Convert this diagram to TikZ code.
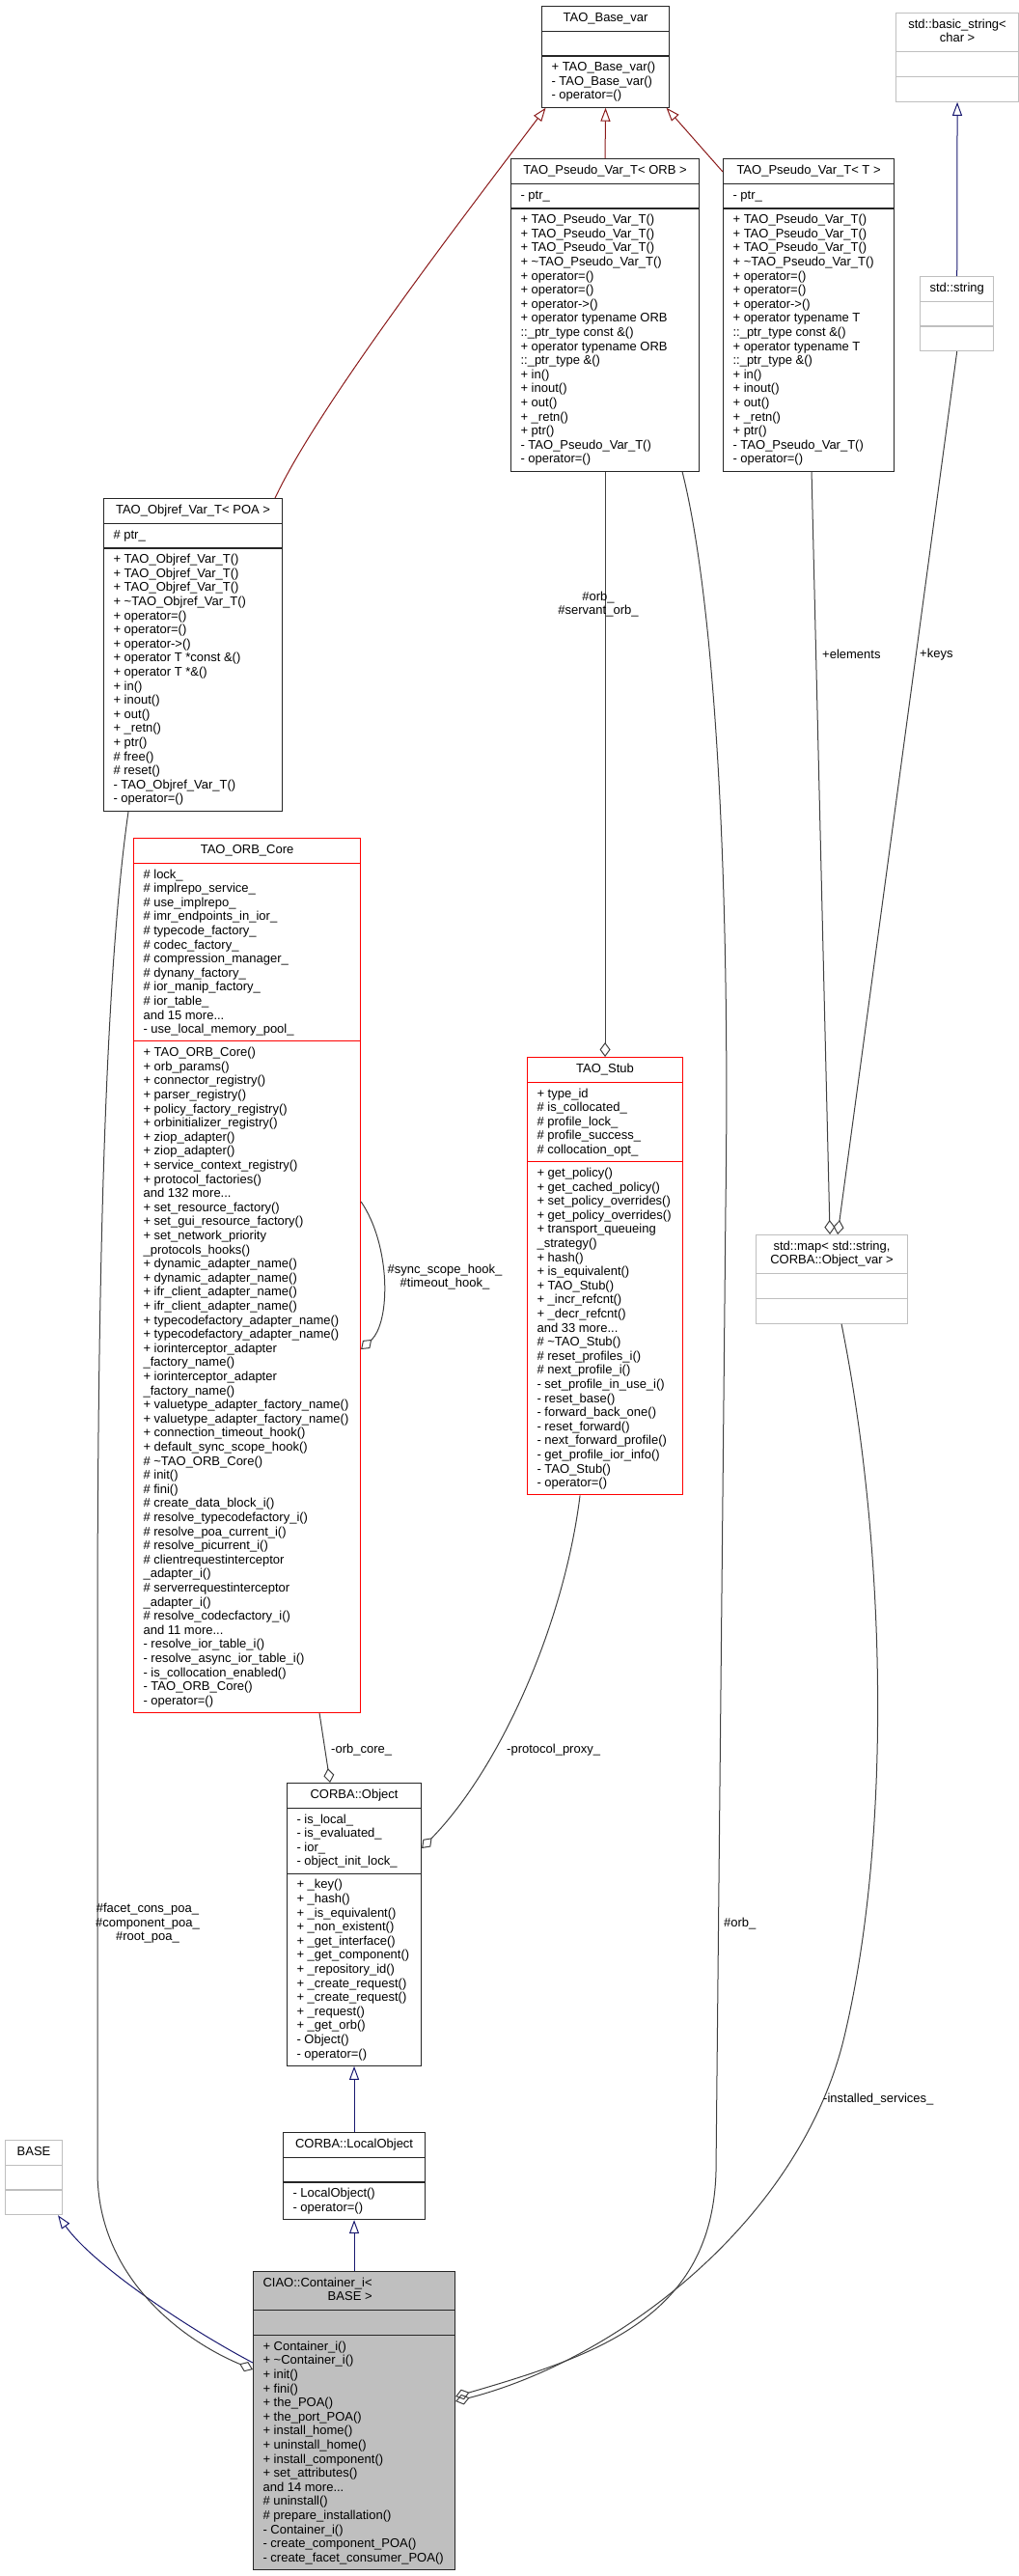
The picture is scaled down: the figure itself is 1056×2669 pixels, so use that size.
\documentclass[tikz,border=0pt]{standalone}
\usepackage{fontspec}
\setmainfont{Liberation Sans}
\usetikzlibrary{arrows.meta, shapes.multipart}
\definecolor{edgegrey}{HTML}{404040}
\definecolor{inhnavy}{HTML}{191970}
\definecolor{inhbrick}{HTML}{8B1A1A}
\definecolor{undocgrey}{HTML}{BFBFBF}

\begin{document}
\begin{tikzpicture}[x=1pt, y=-1pt,
      cls/.style={
        rectangle split,
        rectangle split parts=3,
        rectangle split part align={center,left,left},
        rectangle split empty part height=10.2pt,
        rectangle split empty part depth=4.4pt,
        draw=black!85,
        line width=1.1pt,
        anchor=north west,
        align=left,
        inner xsep=10pt,
        inner ysep=5pt,
        font=\fontsize{13}{14.6}\selectfont
      },
      redcls/.style={cls, draw=red},
      undoc/.style={cls, draw=undocgrey},
      inh/.style={-{Triangle[open, length=14pt, width=10pt]}, line width=1pt},
      inhred/.style={inh, inhbrick},
      inhblue/.style={inh, inhnavy},
      usage/.style={-{Diamond[open, length=15pt, width=11pt]}, line width=1pt, edgegrey},
      lbl/.style={font=\fontsize{13}{14.6}\selectfont, inner sep=0pt, align=center}
    ]
      \useasboundingbox (0,0) rectangle (1056,2669);

      \node[cls, minimum width=132pt] (basevar) at (561,6)
        {\strut TAO\_Base\_var
         \nodepart{two}\strut
         \nodepart{three}\strut + TAO\_Base\_var()\\- TAO\_Base\_var()\\- operator=()};

      \node[undoc, minimum width=127pt] (basicstring) at (928,13)
        {\begin{tabular}{@{}c@{}}std::basic\_string<\\char >\end{tabular}
         \nodepart{two}\strut
         \nodepart{three}\strut};

      \node[cls, minimum width=195pt] (pseudoorb) at (529,164)
        {\strut TAO\_Pseudo\_Var\_T< ORB >
         \nodepart{two}\strut - ptr\_
         \nodepart{three}\strut + TAO\_Pseudo\_Var\_T()\\+ TAO\_Pseudo\_Var\_T()\\+ TAO\_Pseudo\_Var\_T()\\
         + \textasciitilde TAO\_Pseudo\_Var\_T()\\+ operator=()\\+ operator=()\\+ operator->()\\
         + operator typename ORB\\::\_ptr\_type const \&()\\+ operator typename ORB\\::\_ptr\_type \&()\\
         + in()\\+ inout()\\+ out()\\+ \_retn()\\+ ptr()\\- TAO\_Pseudo\_Var\_T()\\- operator=()};

      \node[cls, minimum width=177pt] (pseudot) at (749,164)
        {\strut TAO\_Pseudo\_Var\_T< T >
         \nodepart{two}\strut - ptr\_
         \nodepart{three}\strut + TAO\_Pseudo\_Var\_T()\\+ TAO\_Pseudo\_Var\_T()\\+ TAO\_Pseudo\_Var\_T()\\
         + \textasciitilde TAO\_Pseudo\_Var\_T()\\+ operator=()\\+ operator=()\\+ operator->()\\
         + operator typename T\\::\_ptr\_type const \&()\\+ operator typename T\\::\_ptr\_type \&()\\
         + in()\\+ inout()\\+ out()\\+ \_retn()\\+ ptr()\\- TAO\_Pseudo\_Var\_T()\\- operator=()};

      \node[undoc, minimum width=76pt] (stdstring) at (953,286)
        {\strut std::string
         \nodepart{two}\strut
         \nodepart{three}\strut};

      \node[cls, minimum width=185pt] (objref) at (107,516)
        {\strut TAO\_Objref\_Var\_T< POA >
         \nodepart{two}\strut \# ptr\_
         \nodepart{three}\strut + TAO\_Objref\_Var\_T()\\+ TAO\_Objref\_Var\_T()\\+ TAO\_Objref\_Var\_T()\\
         + \textasciitilde TAO\_Objref\_Var\_T()\\+ operator=()\\+ operator=()\\+ operator->()\\
         + operator T *const \&()\\+ operator T *\&()\\+ in()\\+ inout()\\+ out()\\+ \_retn()\\+ ptr()\\
         \# free()\\\# reset()\\- TAO\_Objref\_Var\_T()\\- operator=()};

      \node[redcls, minimum width=235pt] (orbcore) at (138,868)
        {\strut TAO\_ORB\_Core
         \nodepart{two}\strut \# lock\_\\\# implrepo\_service\_\\\# use\_implrepo\_\\\# imr\_endpoints\_in\_ior\_\\
         \# typecode\_factory\_\\\# codec\_factory\_\\\# compression\_manager\_\\\# dynany\_factory\_\\
         \# ior\_manip\_factory\_\\\# ior\_table\_\\and 15 more...\\- use\_local\_memory\_pool\_
         \nodepart{three}\strut + TAO\_ORB\_Core()\\+ orb\_params()\\+ connector\_registry()\\+ parser\_registry()\\
         + policy\_factory\_registry()\\+ orbinitializer\_registry()\\+ ziop\_adapter()\\+ ziop\_adapter()\\
         + service\_context\_registry()\\+ protocol\_factories()\\and 132 more...\\
         + set\_resource\_factory()\\+ set\_gui\_resource\_factory()\\+ set\_network\_priority\\\_protocols\_hooks()\\
         + dynamic\_adapter\_name()\\+ dynamic\_adapter\_name()\\+ ifr\_client\_adapter\_name()\\+ ifr\_client\_adapter\_name()\\
         + typecodefactory\_adapter\_name()\\+ typecodefactory\_adapter\_name()\\
         + iorinterceptor\_adapter\\\_factory\_name()\\+ iorinterceptor\_adapter\\\_factory\_name()\\
         + valuetype\_adapter\_factory\_name()\\+ valuetype\_adapter\_factory\_name()\\
         + connection\_timeout\_hook()\\+ default\_sync\_scope\_hook()\\
         \# \textasciitilde TAO\_ORB\_Core()\\\# init()\\\# fini()\\\# create\_data\_block\_i()\\
         \# resolve\_typecodefactory\_i()\\\# resolve\_poa\_current\_i()\\\# resolve\_picurrent\_i()\\
         \# clientrequestinterceptor\\\_adapter\_i()\\\# serverrequestinterceptor\\\_adapter\_i()\\
         \# resolve\_codecfactory\_i()\\and 11 more...\\- resolve\_ior\_table\_i()\\- resolve\_async\_ior\_table\_i()\\
         - is\_collocation\_enabled()\\- TAO\_ORB\_Core()\\- operator=()};

      \node[redcls, minimum width=161pt] (stub) at (546,1095)
        {\strut TAO\_Stub
         \nodepart{two}\strut + type\_id\\\# is\_collocated\_\\\# profile\_lock\_\\\# profile\_success\_\\\# collocation\_opt\_
         \nodepart{three}\strut + get\_policy()\\+ get\_cached\_policy()\\+ set\_policy\_overrides()\\+ get\_policy\_overrides()\\
         + transport\_queueing\\\_strategy()\\+ hash()\\+ is\_equivalent()\\+ TAO\_Stub()\\+ \_incr\_refcnt()\\
         + \_decr\_refcnt()\\and 33 more...\\\# \textasciitilde TAO\_Stub()\\\# reset\_profiles\_i()\\\# next\_profile\_i()\\
         - set\_profile\_in\_use\_i()\\- reset\_base()\\- forward\_back\_one()\\- reset\_forward()\\
         - next\_forward\_profile()\\- get\_profile\_ior\_info()\\- TAO\_Stub()\\- operator=()};

      \node[undoc, minimum width=157pt] (stdmap) at (783,1279)
        {\begin{tabular}{@{}c@{}}std::map< std::string,\\CORBA::Object\_var >\end{tabular}
         \nodepart{two}\strut
         \nodepart{three}\strut};

      \node[cls, minimum width=139pt] (object) at (297,1847)
        {\strut CORBA::Object
         \nodepart{two}\strut - is\_local\_\\- is\_evaluated\_\\- ior\_\\- object\_init\_lock\_
         \nodepart{three}\strut + \_key()\\+ \_hash()\\+ \_is\_equivalent()\\+ \_non\_existent()\\+ \_get\_interface()\\
         + \_get\_component()\\+ \_repository\_id()\\+ \_create\_request()\\+ \_create\_request()\\+ \_request()\\
         + \_get\_orb()\\- Object()\\- operator=()};

      \node[cls, minimum width=147pt] (localobject) at (293,2209)
        {\strut CORBA::LocalObject
         \nodepart{two}\strut
         \nodepart{three}\strut - LocalObject()\\- operator=()};

      \node[undoc, minimum width=59pt] (base) at (5,2217)
        {\strut BASE
         \nodepart{two}\strut
         \nodepart{three}\strut};

      \node[cls, fill=undocgrey, rectangle split part align={left,left,left}, minimum width=209pt] (container) at (262,2353)
        {\begin{tabular}{@{}r@{}}CIAO::Container\_i<\\BASE >\end{tabular}
         \nodepart{two}\strut
         \nodepart{three}\strut + Container\_i()\\+ \textasciitilde Container\_i()\\+ init()\\+ fini()\\+ the\_POA()\\
         + the\_port\_POA()\\+ install\_home()\\+ uninstall\_home()\\+ install\_component()\\+ set\_attributes()\\
         and 14 more...\\\# uninstall()\\\# prepare\_installation()\\- Container\_i()\\- create\_component\_POA()\\
         - create\_facet\_consumer\_POA()};

      \draw[inhred] (pseudoorb.north) -- (basevar.south);
      \draw[inhred] ([yshift=-14pt]pseudot.north west) -- ([xshift=63pt]basevar.south);
      \draw[inhred] ([xshift=85pt]objref.north) .. controls (330,420) and (480,225) .. ([xshift=-62pt]basevar.south);

      \draw[inhblue] (stdstring.north) -- (basicstring.south);
      \draw[inhblue] (localobject.north) -- (object.south);
      \draw[inhblue] (container.north) -- (localobject.south);
      \draw[inhblue] ([yshift=-95pt]container.north west) .. controls (190,2410) and (95,2345) .. ([xshift=25pt]base.south);

      \draw[usage] (pseudoorb.south) -- (stub.north);
      \draw[usage] ([xshift=3pt]pseudot.south) -- ([xshift=-2pt]stdmap.north);
      \draw[usage] (stdstring.south) -- ([xshift=6pt]stdmap.north);
      \draw[usage] ([xshift=80pt]pseudoorb.south) .. controls (740,620) and (757,900) .. (752,1250)
        -- (742,2250) .. controls (738,2400) and (620,2440) .. ([yshift=-130pt]container.north east);
      \draw[usage] ([xshift=10pt]stdmap.south) .. controls (918,1600) and (925,1900) .. (875,2110)
        .. controls (830,2300) and (640,2445) .. ([yshift=-135pt]container.north east);
      \draw[usage] ([xshift=-67pt]objref.south) .. controls (110,1000) and (101,1300) .. (101,1700)
        -- (101,2250) .. controls (101,2360) and (190,2425) .. ([yshift=-102pt]container.north west);
      \draw[usage] ([xshift=75pt]orbcore.south) -- ([xshift=-25pt]object.north);
      \draw[usage] ([xshift=-26pt]stub.south) .. controls (585,1680) and (520,1830) .. ([yshift=-68pt]object.north east);
      \draw[usage] ([yshift=-377pt]orbcore.north east) .. controls (405,1290) and (405,1370) .. ([yshift=-530pt]orbcore.north east);

      \node[lbl] (orblbl) at (620,626) {\#orb\_\\\#servant\_orb\_};
      \node[lbl, anchor=west] (elemlbl) at (852,678) {+elements};
      \node[lbl, anchor=west] (keyslbl) at (953,678) {+keys};
      \node[lbl] (hooklbl) at (461,1323) {\#sync\_scope\_hook\_\\\#timeout\_hook\_};
      \node[lbl, anchor=west] (orbcorelbl) at (343,1813) {-orb\_core\_};
      \node[lbl, anchor=west] (proxylbl) at (525,1813) {-protocol\_proxy\_};
      \node[lbl] (poalbl) at (153,1993) {\#facet\_cons\_poa\_\\\#component\_poa\_\\\#root\_poa\_};
      \node[lbl, anchor=west] (orb2lbl) at (750,1993) {\#orb\_};
      \node[lbl, anchor=west] (svclbl) at (853,2175) {-installed\_services\_};
    \end{tikzpicture}
\end{document}
